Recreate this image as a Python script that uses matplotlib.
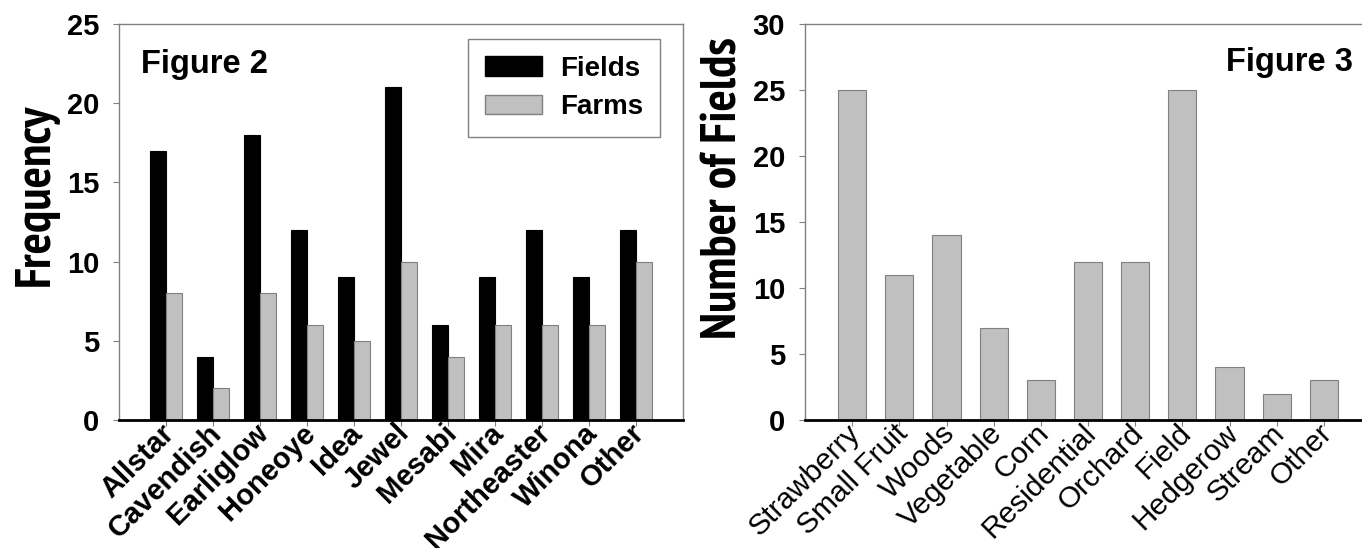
import matplotlib
matplotlib.use('Agg')
import matplotlib.pyplot as plt
from matplotlib import font_manager as fm
from matplotlib.font_manager import FontProperties
from matplotlib.patches import Patch
import matplotlib.transforms as mtransforms
import numpy as np

# ---- data ----
cultivars = ['Allstar', 'Cavendish', 'Earliglow', 'Honeoye', 'Idea', 'Jewel',
             'Mesabi', 'Mira', 'Northeaster', 'Winona', 'Other']
fields_freq = [17, 4, 18, 12, 9, 21, 6, 9, 12, 9, 12]
farms_freq = [8, 2, 8, 6, 5, 10, 4, 6, 6, 6, 10]

habitats = ['Strawberry', 'Small Fruit', 'Woods', 'Vegetable', 'Corn', 'Residential',
            'Orchard', 'Field', 'Hedgerow', 'Stream', 'Other']
n_fields = [25, 11, 14, 7, 3, 12, 12, 25, 4, 2, 3]

left_yticks = [0, 5, 10, 15, 20, 25]
right_yticks = [0, 5, 10, 15, 20, 25, 30]

# ---- fonts ----
avail = {f.name for f in fm.fontManager.ttflist}
BASE = 'Liberation Sans' if 'Liberation Sans' in avail else 'DejaVu Sans'
plt.rcParams['font.family'] = [BASE, 'DejaVu Sans']


def find_narrow_bold():
    cands = []
    for f in fm.fontManager.ttflist:
        nm = f.name.lower()
        fn = f.fname.lower()
        isbold = (f.weight in ('bold', 700, 'heavy') or
                  (isinstance(f.weight, int) and f.weight >= 700) or 'bold' in fn)
        if not isbold or 'italic' in fn or 'oblique' in fn:
            continue
        narrow = ('narrow' in nm or 'narrow' in fn)
        cond = (('condensed' in nm or 'condensed' in fn) and 'semi' not in fn
                and 'extra' not in fn and 'ultra' not in fn)
        if 'liberation' in fn and narrow:
            cands.append((0, f.fname))
        elif ('arimo' in fn or 'sans' in fn) and narrow:
            cands.append((1, f.fname))
        elif 'roboto' in fn and cond and 'mono' not in fn and 'slab' not in fn:
            cands.append((2, f.fname))
        elif 'notosans' in fn.replace('-', '').replace(' ', '') and cond and 'mono' not in fn \
                and 'display' not in fn and 'cjk' not in fn:
            cands.append((3, f.fname))
    if cands:
        cands.sort()
        return cands[0][1]
    return None


nb = find_narrow_bold()
if nb:
    YLAB_PROPS = dict(fontproperties=FontProperties(fname=nb, size=36))
else:
    YLAB_PROPS = dict(fontsize=27, fontweight='bold', family=[BASE, 'DejaVu Sans'])

GRAY = '#C0C0C0'
EDGE = '#808080'
SPINE = '#808080'

W, H = 1362, 548
fig = plt.figure(figsize=(W / 100, H / 100), dpi=100)

ax1 = fig.add_axes([119 / W, 128 / H, 564 / W, 396 / H])
ax2 = fig.add_axes([805 / W, 128 / H, 566 / W, 396 / H])


def style_axes(ax, yticks, ylim_top):
    for s in ['left', 'top', 'right']:
        ax.spines[s].set_color(SPINE)
        ax.spines[s].set_linewidth(1.0)
    ax.spines['bottom'].set_color('black')
    ax.spines['bottom'].set_linewidth(2.0)
    ax.set_xlim(-1, 11)
    ax.set_ylim(0, ylim_top)
    ax.set_yticks(yticks)
    ax.set_yticklabels([str(v) for v in yticks], fontsize=21, fontweight='bold')
    ax.tick_params(axis='y', direction='out', length=4.3, width=0.8,
                   color=SPINE, pad=10)
    ax.tick_params(axis='x', direction='out', length=4.3, width=0.8,
                   color=SPINE, pad=2)


def shift_labels(ax, dx_px, dy_px):
    off = mtransforms.ScaledTranslation(dx_px / 100, dy_px / 100, fig.dpi_scale_trans)
    for lab in ax.get_xticklabels():
        lab.set_transform(lab.get_transform() + off)


# ---- Figure 2 (left) ----
x = np.arange(len(cultivars))
bw = 0.34
ax1.bar(x - bw / 2, fields_freq, width=bw, color='black', edgecolor='black',
        linewidth=0.8, zorder=2, label='Fields')
ax1.bar(x + bw / 2, farms_freq, width=bw, color=GRAY, edgecolor=EDGE,
        linewidth=0.8, zorder=2, label='Farms')
style_axes(ax1, left_yticks, 25)
ax1.set_xticks(x)
ax1.set_xticklabels(cultivars, rotation=45, ha='right', va='center',
                    rotation_mode='anchor', fontsize=21, fontweight='bold')
shift_labels(ax1, 4, 0)

ax1.text(0.039, 0.8755, 'Figure 2', transform=ax1.transAxes, fontsize=23.5,
         fontweight='bold', ha='left', va='baseline')

leg = ax1.legend(handles=[Patch(facecolor='black', edgecolor='black', label='Fields'),
                          Patch(facecolor=GRAY, edgecolor=EDGE, label='Farms')],
                 loc='upper right', bbox_to_anchor=(0.959, 0.962), borderaxespad=0,
                 prop={'family': BASE, 'weight': 'bold', 'size': 20},
                 handlelength=2.05, handleheight=0.7, handletextpad=0.65,
                 labelspacing=0.45, borderpad=0.6, fancybox=False,
                 framealpha=1, edgecolor=SPINE)
leg.get_frame().set_linewidth(1.0)

# ---- Figure 3 (right) ----
x2 = np.arange(len(habitats))
ax2.bar(x2, n_fields, width=0.6, color=GRAY, edgecolor=EDGE, linewidth=0.8, zorder=2)
style_axes(ax2, right_yticks, 30)
ax2.set_xticks(x2)
ax2.set_xticklabels(habitats, rotation=45, ha='right', va='center',
                    rotation_mode='anchor', fontsize=21.5)
shift_labels(ax2, 4, 0)
ax2.text(0.9677, 0.882, 'Figure 3', transform=ax2.transAxes, fontsize=23.5,
         fontweight='bold', ha='right', va='baseline')

# ---- y labels ----
fig.text(48.3 / W, 1 - 194.5 / H, 'Frequency', rotation=90, rotation_mode='anchor',
         ha='center', va='baseline', **YLAB_PROPS)
fig.text(736.7 / W, 1 - 188 / H, 'Number of Fields', rotation=90, rotation_mode='anchor',
         ha='center', va='baseline', **YLAB_PROPS)

fig.savefig('out.png', dpi=100)
